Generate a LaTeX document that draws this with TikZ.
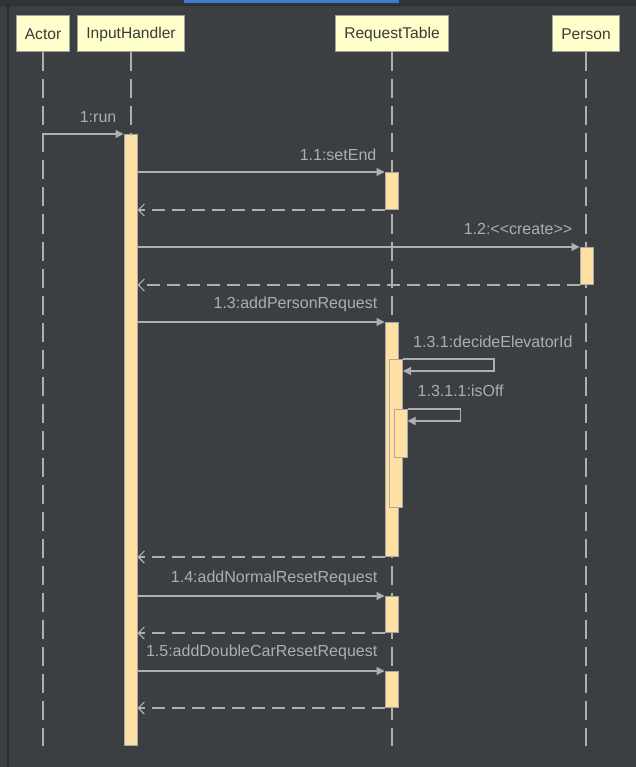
\documentclass[tikz,border=0pt]{standalone}
\usepackage{fontspec}
\setmainfont{Liberation Sans}
\usetikzlibrary{arrows.meta}

\definecolor{bgcol}{HTML}{3C3F41}
\definecolor{bandcol}{HTML}{313335}
\definecolor{edgecol}{HTML}{2A2B2D}
\definecolor{tabblue}{HTML}{3D7BD0}
\definecolor{headfill}{HTML}{FFFFCC}
\definecolor{headline}{HTML}{A0A0A0}
\definecolor{headtext}{HTML}{3A3A3A}
\definecolor{barfill}{HTML}{FFE0A4}
\definecolor{barline}{HTML}{A8A8A8}
\definecolor{wire}{HTML}{AFAFAF}
\definecolor{msgtext}{HTML}{ACAEB0}

\tikzset{
	head/.style={draw=headline, line width=1pt, fill=headfill, text=headtext,
		minimum height=36pt, inner xsep=8.5pt, font=\fontsize{15.6}{18}\selectfont},
	lifeline/.style={draw=wire, line width=1.4pt, dash pattern=on 19pt off 8pt},
	actbar/.style={draw=barline, line width=1pt, fill=barfill, minimum width=13pt,
		inner sep=0pt, anchor=north},
	call/.style={draw=wire, line width=1.2pt, -{Triangle[length=8pt,width=8pt]}},
	reply/.style={draw=wire, line width=1.2pt, dash pattern=on 13pt off 7pt,
		-{Straight Barb[length=6pt,width=12pt,line width=1.2pt]}},
	msg/.style={text=msgtext, inner sep=0pt, font=\fontsize{16}{18}\selectfont}
}

\begin{document}
\begin{tikzpicture}[x=1pt, y=-1pt]

\useasboundingbox (0,0) rectangle (636,767);
\fill[bgcol] (0,0) rectangle (636,767);
\fill[bandcol] (0,0) rectangle (636,5);
\draw[edgecol, line width=1.2pt] (0,5.5) -- (636,5.5);
\draw[edgecol, line width=1.6pt] (8,5.5) -- (8,767);
\fill[tabblue] (184,0.5) rectangle (399,3.5);

% lifeline heads
\node[head] (actor) at (43,34) {Actor};
\node[head] (handler) at (131,34) {InputHandler};
\node[head] (table) at (392,34) {RequestTable};
\node[head] (person) at (586,34) {Person};

\foreach \n in {actor, handler, table, person}
	\draw[lifeline] (\n.south) -- (\n.south |- 0,746);

% activations
\node[actbar, minimum height=611pt] (ihAct) at (130.5,134) {};
\node[actbar, minimum height=37pt] (rtA1) at (391.5,172) {};
\node[actbar, minimum height=37pt] (pAct) at (586.5,247) {};
\node[actbar, minimum height=234pt] (rtA2) at (391.5,322) {};
\node[actbar, minimum height=148pt] (rtA3) at (396,359) {};
\node[actbar, minimum height=48pt] (rtA4) at (400.5,409) {};
\node[actbar, minimum height=36pt] (rtA5) at (391.5,596) {};
\node[actbar, minimum height=36pt] (rtA6) at (391.5,671) {};

% messages
\draw[call] (actor |- ihAct.north) -- (ihAct.north west);
\node[msg, anchor=east] (m1) at ([xshift=-7pt,yshift=17pt]ihAct.north west) {1:run};

\draw[call] (ihAct.east |- rtA1.north) -- (rtA1.north west);
\node[msg, anchor=east] (m11) at ([xshift=-8pt,yshift=17pt]rtA1.north west) {1.1:setEnd};
\draw[reply] (rtA1.south west) -- (ihAct.east |- rtA1.south);

\draw[call] (ihAct.east |- pAct.north) -- (pAct.north west);
\node[msg, anchor=east] (m12) at ([xshift=-7pt,yshift=18pt]pAct.north west) {1.2:{<}{<}create{>}{>}};
\draw[reply] (pAct.south west) -- (ihAct.east |- pAct.south);

\draw[call] (ihAct.east |- rtA2.north) -- (rtA2.north west);
\node[msg, anchor=east] (m13) at ([xshift=-7pt,yshift=18pt]rtA2.north west) {1.3:addPersonRequest};
\draw[reply] (rtA2.south west) -- (ihAct.east |- rtA2.south);

\draw[call] (rtA3.north east) -- ++(91,0) -- ++(0,12) -- ([yshift=-12pt]rtA3.north east);
\node[msg, anchor=west] (m131) at ([xshift=10pt,yshift=17pt]rtA3.north east) {1.3.1:decideElevatorId};

\draw[call] (rtA4.north east) -- ++(53,0) -- ++(0,12) -- ([yshift=-12pt]rtA4.north east);
\node[msg, anchor=west] (m1311) at ([xshift=10pt,yshift=18pt]rtA4.north east) {1.3.1.1:isOff};

\draw[call] (ihAct.east |- rtA5.north) -- (rtA5.north west);
\node[msg, anchor=east] (m14) at ([xshift=-7pt,yshift=18pt]rtA5.north west) {1.4:addNormalResetRequest};
\draw[reply] (rtA5.south west) -- (ihAct.east |- rtA5.south);

\draw[call] (ihAct.east |- rtA6.north) -- (rtA6.north west);
\node[msg, anchor=east] (m15) at ([xshift=-7pt,yshift=19pt]rtA6.north west) {1.5:addDoubleCarResetRequest};
\draw[reply] (rtA6.south west) -- (ihAct.east |- rtA6.south);

\end{tikzpicture}
\end{document}
